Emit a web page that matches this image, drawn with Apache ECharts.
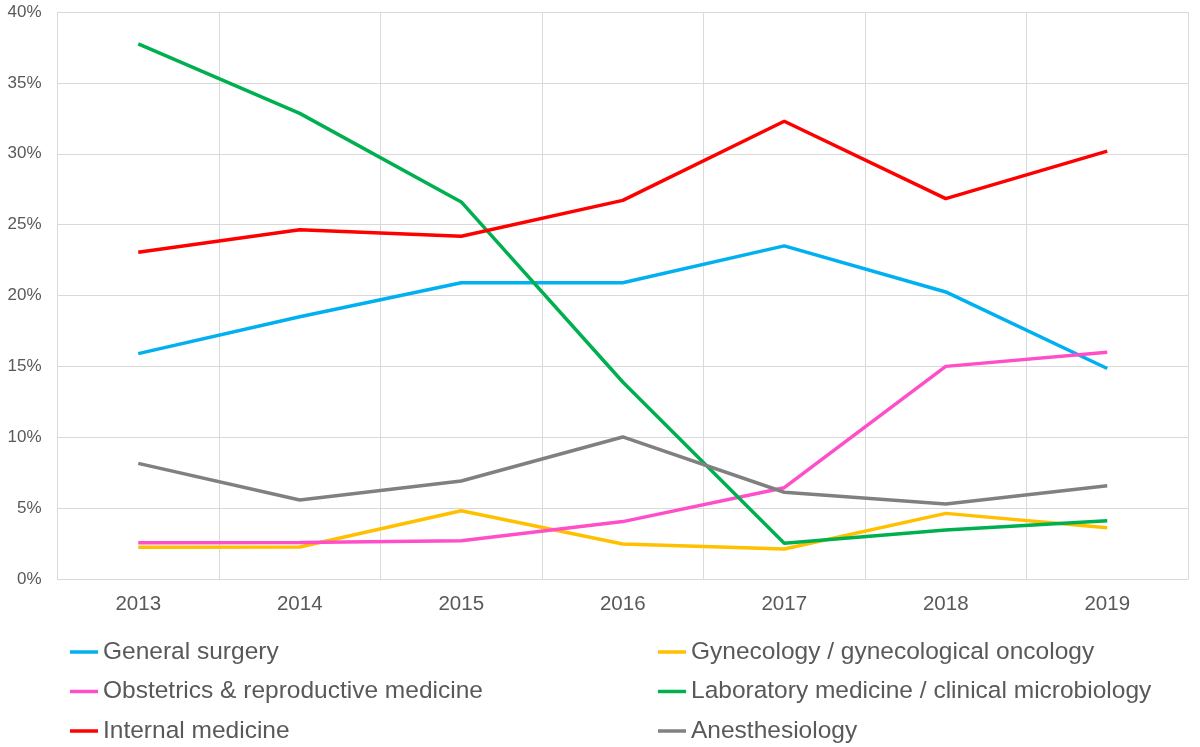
<!DOCTYPE html>
<html>
<head>
<meta charset="utf-8">
<script src="https://cdn.jsdelivr.net/npm/echarts@6/dist/echarts.min.js"></script>
<style>html,body{margin:0;padding:0;background:#fff;}#c{width:1200px;height:747px;}</style>
</head>
<body>
<div id="c"></div>
<script>
const years = ['2013','2014','2015','2016','2017','2018','2019'];
const generalSurgery = [15.9, 18.5, 20.9, 20.9, 23.5, 20.25, 14.85];
const gynecology = [2.24, 2.26, 4.82, 2.47, 2.12, 4.63, 3.62];
const obstetrics = [2.56, 2.58, 2.70, 4.05, 6.44, 15.0, 16.0];
const laboratory = [37.75, 32.85, 26.6, 13.9, 2.52, 3.45, 4.11];
const internalMedicine = [23.05, 24.64, 24.18, 26.71, 32.29, 26.83, 30.19];
const anesthesiology = [8.16, 5.57, 6.91, 10.02, 6.12, 5.29, 6.58];
const yTicks = [0, 5, 10, 15, 20, 25, 30, 35, 40];

const names = ['General surgery','Gynecology / gynecological oncology','Obstetrics & reproductive medicine','Laboratory medicine / clinical microbiology','Internal medicine','Anesthesiology'];
const datas = [generalSurgery, gynecology, obstetrics, laboratory, internalMedicine, anesthesiology];
const colors = ['#00B0F0','#FFC000','#FF4FC8','#00B050','#FF0000','#808080'];
const font = 'Liberation Sans, Arial, sans-serif';

const chart = echarts.init(document.getElementById('c'));
const legendCommon = {
  orient: 'vertical', top: 639.5, height: 120, padding: 0, icon: 'rect', itemWidth: 28, itemHeight: 3.5,
  itemGap: 14.5, itemTextGap: 2,
  textStyle: {fontFamily: font, fontSize: 24.5, color: '#595959', lineHeight: 25}
};
chart.setOption({
  animation: false,
  color: colors,
  grid: {left: 57.5, right: 12, top: 12, bottom: 168},
  legend: [
    Object.assign({left: 70, data: [names[0], names[2], names[4]]}, legendCommon),
    Object.assign({left: 658, data: [names[1], names[3], names[5]]}, legendCommon)
  ],
  xAxis: {
    type: 'category', data: years, boundaryGap: true,
    axisLine: {lineStyle: {color: '#d9d9d9', width: 1}},
    axisTick: {show: false},
    axisLabel: {fontFamily: font, fontSize: 20.5, color: '#595959', margin: 15},
    splitLine: {show: true, lineStyle: {color: '#d9d9d9', width: 1}}
  },
  yAxis: {
    type: 'value', min: yTicks[0], max: yTicks[yTicks.length-1], interval: 5,
    axisLine: {show: false}, axisTick: {show: false},
    axisLabel: {fontFamily: font, fontSize: 17, color: '#595959', margin: 16, formatter: '{value}%'},
    splitLine: {lineStyle: {color: '#d9d9d9', width: 1}}
  },
  series: names.map((n, i) => ({
    name: n, type: 'line', data: datas[i], symbol: 'none',
    lineStyle: {width: 3.5, color: colors[i]}, itemStyle: {color: colors[i]}
  }))
});
</script>
</body>
</html>
